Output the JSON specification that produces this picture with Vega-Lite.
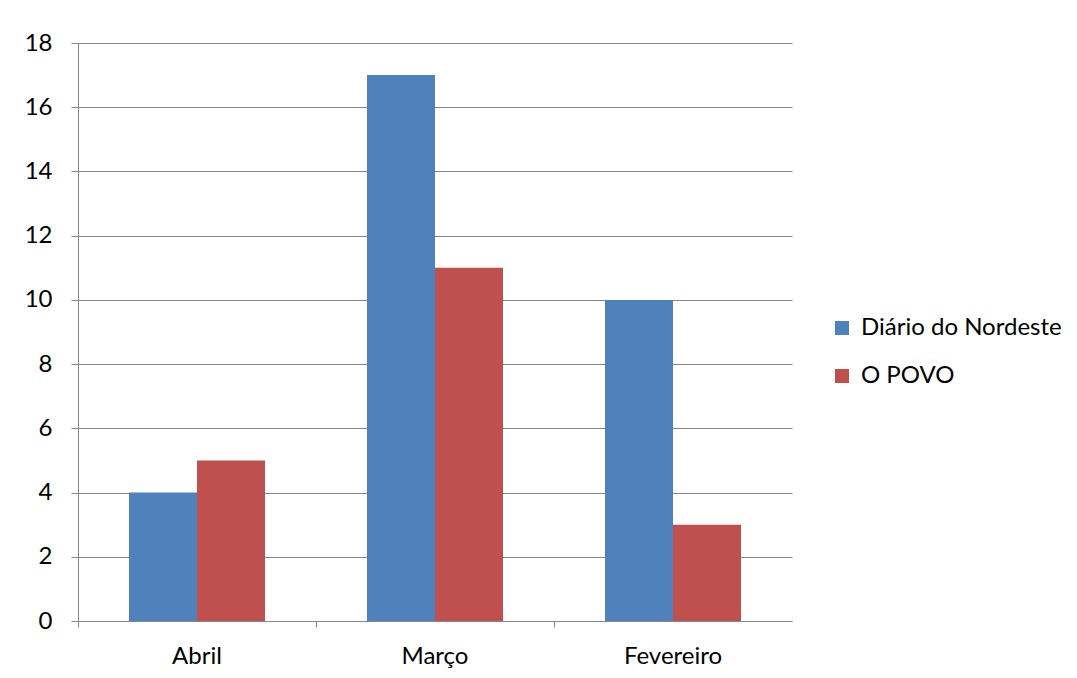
{
  "$schema": "https://vega.github.io/schema/vega-lite/v6.json",
  "width": 714,
  "height": 578,
  "autosize": {"type": "none"},
  "padding": {"left": 78, "top": 43, "right": 285, "bottom": 57},
  "background": "white",
  "data": {
    "values": [
      {"mes": "Abril", "jornal": "Diário do Nordeste", "valor": 4},
      {"mes": "Abril", "jornal": "O POVO", "valor": 5},
      {"mes": "Março", "jornal": "Diário do Nordeste", "valor": 17},
      {"mes": "Março", "jornal": "O POVO", "valor": 11},
      {"mes": "Fevereiro", "jornal": "Diário do Nordeste", "valor": 10},
      {"mes": "Fevereiro", "jornal": "O POVO", "valor": 3}
    ]
  },
  "mark": {"type": "bar"},
  "encoding": {
    "x": {
      "field": "mes",
      "type": "nominal",
      "sort": ["Abril", "Março", "Fevereiro"],
      "scale": {"paddingInner": 0.4286, "paddingOuter": 0.2143},
      "axis": {
        "title": null,
        "labelAngle": 0,
        "bandPosition": -0.375,
        "labelOffset": 0,
        "labelPadding": 17,
        "tickSize": 6,
        "tickColor": "#868686",
        "domainColor": "#868686",
        "labelFont": "Lato",
        "labelFontSize": 24,
        "labelColor": "#000000",
        "grid": false
      }
    },
    "xOffset": {
      "field": "jornal",
      "type": "nominal",
      "scale": {"paddingInner": 0, "paddingOuter": 0}
    },
    "y": {
      "field": "valor",
      "type": "quantitative",
      "scale": {"domain": [0, 18], "nice": false},
      "axis": {
        "title": null,
        "values": [0, 2, 4, 6, 8, 10, 12, 14, 16, 18],
        "tickSize": 7,
        "tickColor": "#868686",
        "domainColor": "#868686",
        "gridColor": "#868686",
        "labelPadding": 19,
        "labelFont": "Lato",
        "labelFontSize": 24,
        "labelColor": "#000000"
      }
    },
    "color": {
      "field": "jornal",
      "type": "nominal",
      "scale": {"domain": ["Diário do Nordeste", "O POVO"], "range": ["#4F81BD", "#C0504D"]},
      "legend": {
        "title": null,
        "orient": "none",
        "legendX": 752,
        "legendY": 273,
        "symbolType": "square",
        "symbolSize": 196,
        "symbolStrokeWidth": 0,
        "symbolOpacity": 1,
        "labelFont": "Lato",
        "labelFontSize": 24,
        "labelColor": "#000000",
        "labelOffset": 7,
        "labelLimit": 400,
        "rowPadding": 24
      }
    }
  },
  "config": {"view": {"stroke": null}}
}
